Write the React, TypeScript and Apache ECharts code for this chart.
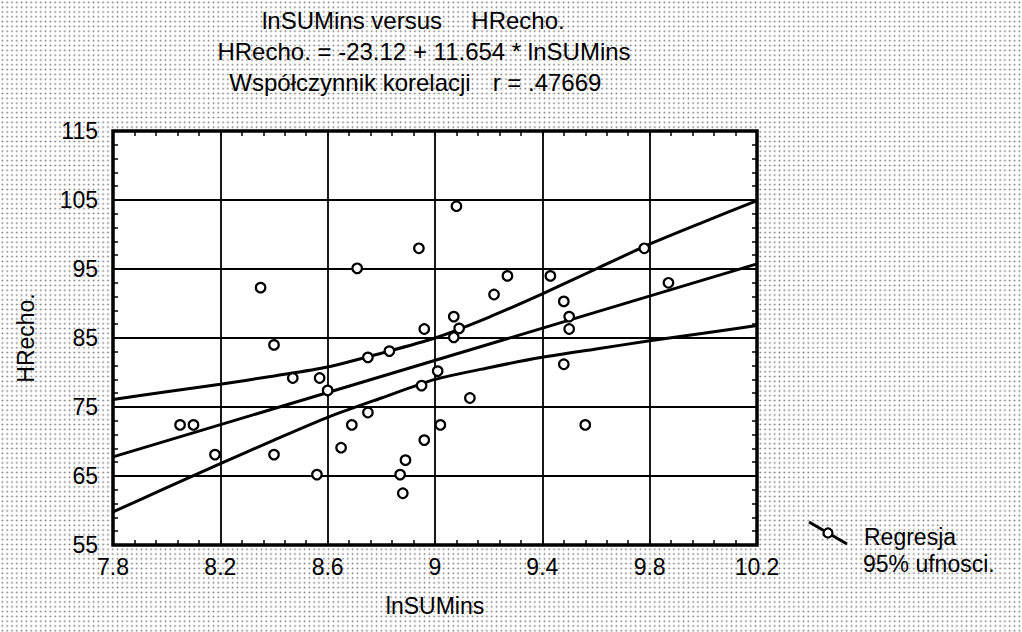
import React, { useEffect, useRef } from "react";
import * as echarts from "echarts";

// scatter points (lnSUMins, HRecho.)
const pointsX = [
  9.08, 8.94, 8.71, 8.35, 9.07, 8.96, 9.09, 9.07, 8.40, 8.75,
  8.83, 8.47, 8.57, 8.60, 9.01, 8.95, 8.05, 8.10, 8.18, 8.40,
  8.75, 8.69, 9.02, 8.96, 8.65, 8.89, 8.56, 8.87, 8.88, 9.27,
  9.43, 9.22, 9.78, 9.87, 9.48, 9.50, 9.50, 9.48, 9.13, 9.56,
];
const pointsY = [
  104.1, 98.0, 95.1, 92.3, 88.1, 86.3, 86.4, 85.1, 84.0, 82.2,
  83.1, 79.2, 79.2, 77.4, 80.2, 78.1, 72.4, 72.4, 68.1, 68.1,
  74.2, 72.4, 72.4, 70.2, 69.1, 67.3, 65.2, 65.2, 62.5, 94.0,
  94.0, 91.3, 98.0, 93.0, 90.3, 88.1, 86.3, 81.2, 76.3, 72.4,
];

// regression line end points
const regX = [7.8, 10.2];
const regY = [67.78, 95.75];

// 95% confidence band
const bandX = [7.8, 8.0, 8.2, 8.4, 8.6, 8.8, 9.0, 9.2, 9.4, 9.6, 9.8, 10.0, 10.2];
const upperBand = [76.1, 77.2, 78.3, 79.5, 80.8, 82.8, 85.0, 88.0, 91.4, 95.0, 98.6, 101.8, 104.9];
const lowerBand = [59.8, 63.3, 66.8, 70.2, 73.5, 76.3, 79.0, 80.7, 82.2, 83.4, 84.6, 85.7, 86.8];

// axes
const xMin = 7.8;
const xMax = 10.2;
const xStep = 0.4;
const yMin = 55;
const yMax = 115;
const yStep = 10;

const xName = "lnSUMins";
const yName = "HRecho.";
const title1a = "lnSUMins versus";
const title1b = "HRecho.";
const title2 = "HRecho. = -23.12 + 11.654 * lnSUMins";
const title3a = "Współczynnik korelacji";
const title3b = "r = .47669";
const legend1 = "Regresja";
const legend2 = "95% ufnosci.";

const FONT = "'Liberation Sans', Arial, Helvetica, sans-serif";

const zip = (xs: number[], ys: number[]) => xs.map((x, i) => [x, ys[i]]);

export default function App() {
  const ref = useRef<HTMLDivElement>(null);

  useEffect(() => {
    if (!ref.current) return;
    const chart = echarts.init(ref.current, undefined, { renderer: "svg" });

    const lineStyle = { color: "#000", width: 3 };
    const txt = (text: string, x: number, y: number, align: string, size = 24) => ({
      type: "text",
      style: {
        text,
        x,
        y,
        align,
        verticalAlign: "middle",
        font: `${size}px ${FONT}`,
        fill: "#000",
      },
      z: 10,
    });

    const tickStyle = { color: "#000", width: 1.5 };
    const hiddenAxisCommon = {
      axisLabel: { show: false },
      axisLine: { show: false },
      splitLine: { show: false },
      axisTick: { show: true, inside: true, length: 5, lineStyle: tickStyle },
      minorTick: { show: true, splitNumber: 5, length: 5, lineStyle: tickStyle },
    };

    chart.setOption({
      animation: false,
      backgroundColor: "transparent",
      textStyle: { fontFamily: FONT },
      grid: {
        left: 113,
        right: 265,
        top: 131,
        bottom: 87,
        show: true,
        backgroundColor: "#fff",
        borderColor: "#000",
        borderWidth: 3.5,
      },
      xAxis: [
        {
          type: "value",
          min: xMin,
          max: xMax,
          interval: xStep,
          name: xName,
          nameLocation: "middle",
          nameGap: 49,
          nameTextStyle: { fontSize: 23, color: "#000", fontFamily: FONT },
          axisLine: { show: false },
          axisTick: { show: true, inside: true, length: 5, lineStyle: tickStyle },
          minorTick: { show: true, splitNumber: 5, length: 5, lineStyle: tickStyle },
          axisLabel: { fontSize: 23, color: "#000", margin: 10, fontFamily: FONT },
          splitLine: { show: true, lineStyle: { color: "#000", width: 1.8 } },
        },
        {
          type: "value",
          position: "top",
          min: xMin,
          max: xMax,
          interval: xStep,
          ...hiddenAxisCommon,
        },
      ],
      yAxis: [
        {
          type: "value",
          min: yMin,
          max: yMax,
          interval: yStep,
          name: yName,
          nameLocation: "middle",
          nameGap: 76,
          nameTextStyle: { fontSize: 23, color: "#000", fontFamily: FONT },
          axisLine: { show: false },
          axisTick: { show: true, inside: true, length: 5, lineStyle: tickStyle },
          minorTick: { show: true, splitNumber: 5, length: 5, lineStyle: tickStyle },
          axisLabel: { fontSize: 23, color: "#000", margin: 15, fontFamily: FONT },
          splitLine: { show: true, lineStyle: { color: "#000", width: 1.8 } },
        },
        {
          type: "value",
          position: "right",
          min: yMin,
          max: yMax,
          interval: yStep,
          ...hiddenAxisCommon,
        },
      ],
      series: [
        {
          name: "upper",
          type: "line",
          data: zip(bandX, upperBand),
          smooth: 0.25,
          showSymbol: false,
          lineStyle,
          z: 3,
        },
        {
          name: "lower",
          type: "line",
          data: zip(bandX, lowerBand),
          smooth: 0.25,
          showSymbol: false,
          lineStyle,
          z: 3,
        },
        {
          name: legend1,
          type: "line",
          data: zip(regX, regY),
          showSymbol: false,
          lineStyle,
          z: 3,
        },
        {
          name: "points",
          type: "scatter",
          data: zip(pointsX, pointsY),
          symbol: "circle",
          symbolSize: 9.5,
          itemStyle: { color: "#fff", borderColor: "#000", borderWidth: 2.2, opacity: 1 },
          z: 5,
        },
      ],
      graphic: [
        txt(title1a, 352, 20, "center"),
        txt(title1b, 518, 20, "center"),
        txt(title2, 424, 51, "center"),
        txt(title3a, 350, 82, "center"),
        txt(title3b, 547, 82, "center"),
        {
          type: "line",
          shape: { x1: 809, y1: 522, x2: 847, y2: 544 },
          style: { stroke: "#000", lineWidth: 3 },
          z: 10,
        },
        {
          type: "circle",
          shape: { cx: 828, cy: 533, r: 4.5 },
          style: { fill: "#fff", stroke: "#000", lineWidth: 2.2 },
          z: 11,
        },
        txt(legend1, 864, 537, "left", 23),
        txt(legend2, 863, 564, "left", 23),
      ],
    });

    return () => chart.dispose();
  }, []);

  return (
    <div
      ref={ref}
      style={{
        position: "fixed",
        left: 0,
        top: 0,
        width: 1022,
        height: 632,
        backgroundColor: "#fff",
        backgroundImage: "radial-gradient(circle, #808080 0.8px, transparent 1.1px)",
        backgroundSize: "4.8px 4.8px",
      }}
    />
  );
}
